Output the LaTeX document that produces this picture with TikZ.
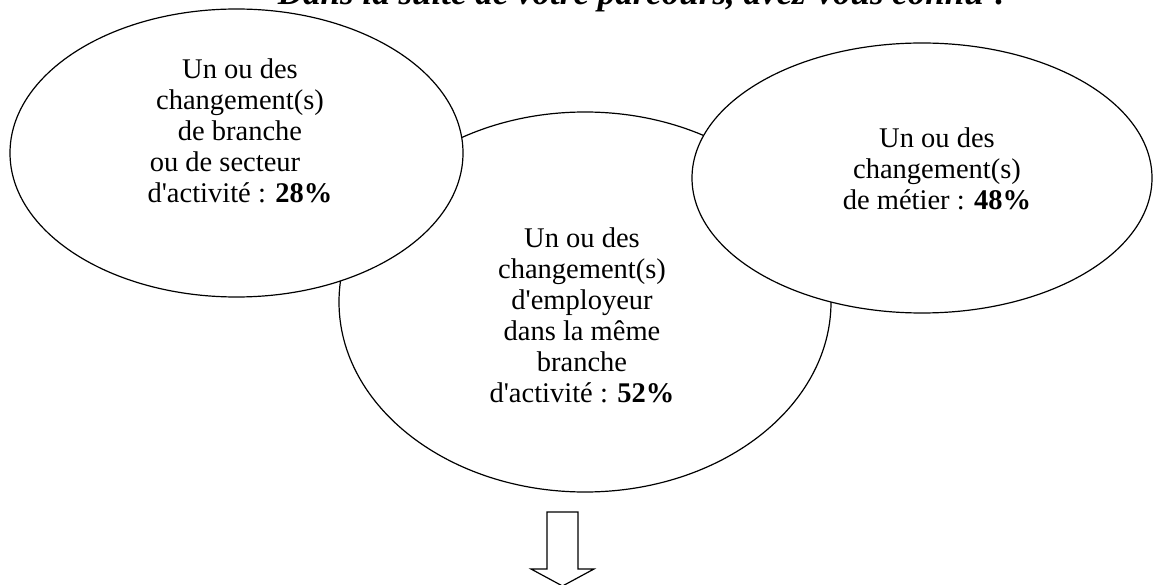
\documentclass[tikz,border=0pt]{standalone}
\usepackage{fontspec}
\newfontfamily\bodyfont{Liberation Serif}
\usetikzlibrary{shapes.geometric}
\tikzset{
  bubble/.style={ellipse, draw=black, fill=white, line width=1.2pt, inner sep=0pt},
  bubbletext/.style={align=center, anchor=north, inner sep=0pt,
    font=\bodyfont\fontsize{28.5pt}{31pt}\selectfont},
  titletext/.style={anchor=base, inner sep=0pt,
    font=\bodyfont\bfseries\itshape\fontsize{35pt}{40pt}\selectfont},
  bigarrow/.style={draw=black, fill=white, line width=1.2pt, line join=miter}
}
\begin{document}
\begin{tikzpicture}[x=1pt,y=-1pt]
\useasboundingbox (0,0) rectangle (1153,585);
\clip (0,0) rectangle (1153,585);
\node[titletext] (title) at (644,5) {Dans la suite de votre parcours, avez-vous connu ?};
\node[bubble, minimum width=492pt, minimum height=380pt] (mid) at (585,302) {};
\node[bubble, minimum width=453pt, minimum height=288pt] (left) at (236.5,153) {};
\node[bubble, minimum width=460pt, minimum height=270pt] (right) at (922,178) {};
\node[bubbletext] (lefttext) at (240,58.5) {Un ou des\\changement(s)\\de branche\\ou de secteur\rule{30pt}{0pt}\\d'activité : \textbf{28\%}};
\node[bubbletext] (midtext) at (582,227.5) {Un ou des\\changement(s)\\d'employeur\\dans la même\\branche\\d'activité : \textbf{52\%}};
\node[bubbletext] (righttext) at (937,127.5) {Un ou des\\changement(s)\\de métier : \textbf{48\%}};
\draw[bigarrow] (547,512) -- (578,512) -- (578,569) -- (594,569) -- (562.5,586) -- (531,569) -- (547,569) -- cycle;
\end{tikzpicture}
\end{document}
